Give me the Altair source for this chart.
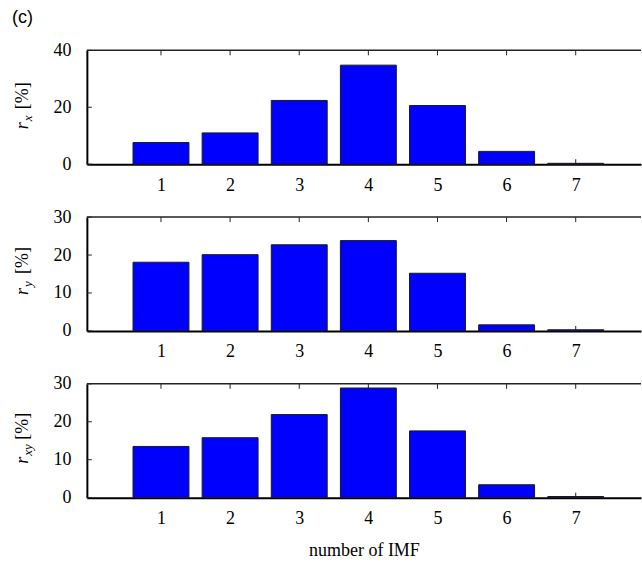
import altair as alt
import pandas as pd

# ---- data ----
imf = [1, 2, 3, 4, 5, 6, 7]
r_x = [7.6, 11.0, 22.4, 34.8, 20.6, 4.5, 0.3]
r_y = [18.1, 20.1, 22.7, 23.8, 15.2, 1.6, 0.3]
r_xy = [13.5, 15.8, 21.9, 28.9, 17.6, 3.4, 0.3]
yticks_x = [0, 20, 40]
yticks_y = [0, 10, 20, 30]
yticks_xy = [0, 10, 20, 30]

SERIF = "Liberation Serif"
W = 555
H = 114
XMAX = 7.872
FS = 18


def panel(values, ymax, yticks, sub, starts, xtitle=None, tag=None):
    df = pd.DataFrame({"imf": imf, "val": values})
    xaxis_kw = dict(values=imf, ticks=False, grid=False, domainColor="black",
                    domainWidth=2, labelFont=SERIF, labelFontSize=FS,
                    labelColor="black", labelPadding=12, labelAngle=0)
    if xtitle:
        xaxis_kw.update(title=xtitle, titleFont=SERIF, titleFontSize=FS,
                        titleFontWeight="normal", titleColor="black",
                        titlePadding=14)
    else:
        xaxis_kw.update(title=None)
    X = alt.X("imf:Q", scale=alt.Scale(domain=[0, XMAX], nice=False, zero=False),
              axis=alt.Axis(**xaxis_kw))
    Y = alt.Y("val:Q", scale=alt.Scale(domain=[0, ymax], nice=False),
              axis=alt.Axis(values=yticks, ticks=False, grid=False,
                            domainColor="black", domainWidth=2,
                            labelFont=SERIF, labelFontSize=FS,
                            labelColor="black", labelPadding=16, title=None))

    tdf = pd.DataFrame({"imf": imf})
    ydf = pd.DataFrame({"val": yticks})
    one = pd.DataFrame({"k": [0]})

    bottom_ticks = alt.Chart(tdf).mark_rule(color="#222", strokeWidth=1).encode(
        x=X, y=alt.value(H), y2=alt.value(H - 5))
    bars = alt.Chart(df).mark_bar(size=56, color="#0000FF", stroke="#1a1a1a",
                                  strokeWidth=1, orient="vertical").encode(x=X, y=Y)
    top_ticks = alt.Chart(tdf).mark_rule(color="#222", strokeWidth=1).encode(
        x=X, y=alt.value(0), y2=alt.value(5))
    left_ticks = alt.Chart(ydf).mark_rule(color="#222", strokeWidth=1).encode(
        y=Y, x=alt.value(0), x2=alt.value(5))
    top_line = alt.Chart(one).mark_rule(color="#222", strokeWidth=1.5).encode(
        x=alt.value(0), x2=alt.value(W), y=alt.value(0))

    r0, s0, p0 = starts
    base_txt = dict(angle=270, align="left", baseline="alphabetic", font=SERIF,
                    color="black")
    t_r = alt.Chart(one).mark_text(fontSize=FS, fontStyle="italic", **base_txt).encode(
        x=alt.value(-58.5), y=alt.value(r0), text=alt.value("r"))
    t_s = alt.Chart(one).mark_text(fontSize=13, fontStyle="italic", **base_txt).encode(
        x=alt.value(-54.5), y=alt.value(s0), text=alt.value(sub))
    t_p = alt.Chart(one).mark_text(fontSize=FS, **base_txt).encode(
        x=alt.value(-58.5), y=alt.value(p0), text=alt.value("[%]"))

    layers = [bottom_ticks, bars, top_ticks, left_ticks, top_line, t_r, t_s, t_p]
    if tag:
        layers.append(alt.Chart(one).mark_text(
            font="Liberation Sans", fontSize=18, align="left", baseline="top",
            color="black").encode(x=alt.value(-75), y=alt.value(-41),
                                  text=alt.value(tag)))
    return alt.layer(*layers).properties(width=W, height=H)


p1 = panel(r_x, 40, yticks_x, "x", (79, 71, 59), tag="(c)")
p2 = panel(r_y, 30, yticks_y, "y", (78, 70, 57))
p3 = panel(r_xy, 30, yticks_xy, "xy", (80, 72, 56), xtitle="number of IMF")

chart = alt.vconcat(p1, p2, p3, spacing=14).properties(
    padding={"left": 12, "top": 9, "right": 0, "bottom": 0},
    background="white",
).configure_view(strokeWidth=0)

chart.save("out.html", embed_options={"renderer": "svg", "actions": False})
